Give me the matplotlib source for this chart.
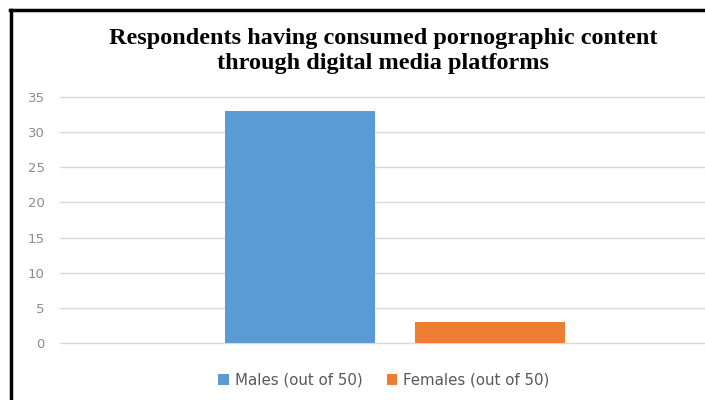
import numpy as np
import matplotlib.pyplot as plt
from matplotlib.lines import Line2D

# data
series = ["Males (out of 50)", "Females (out of 50)"]
values = [33, 3]
colors = ["#5B9BD5", "#ED7D31"]
yticks = [0, 5, 10, 15, 20, 25, 30, 35]

W, H = 705, 400
fig = plt.figure(figsize=(W / 100, H / 100), dpi=100)

# plot area (chart is cropped on the right in the original)
ax = fig.add_axes([60 / W, (H - 343) / H, 670 / W, 246 / H])
pos = [(300 - 60) / 670, (490 - 60) / 670]
bars = ax.bar(pos, values, width=150 / 670, color=colors, label=series, zorder=3)
ax.set_xlim(0, 1)
ax.set_ylim(0, 35)
ax.set_yticks(yticks)
ax.set_xticks([])
ax.grid(axis="y", color="#d9d9d9", linewidth=1, zorder=0)
for gl in ax.get_ygridlines():
    gl.set_clip_on(False)
for s in ax.spines.values():
    s.set_visible(False)
ax.tick_params(axis="y", length=0, pad=11, labelsize=9.5, labelcolor="#8c8c8c")

fig.text(383 / W, 1 - 51 / H,
         "Respondents having consumed pornographic content\nthrough digital media platforms",
         ha="center", va="center", fontsize=17.5, fontweight="bold",
         family="Liberation Serif", linespacing=1.2)

leg = fig.legend(handles=list(bars), labels=series, loc="center",
                 bbox_to_anchor=(384 / W, 1 - 380 / H), ncol=2, frameon=False,
                 fontsize=10.8, handlelength=0.7, handleheight=0.7,
                 columnspacing=1.6, handletextpad=0.4)
for t in leg.get_texts():
    t.set_color("#595959")

# black frame on top and left
fig.add_artist(Line2D([10 / W, 1], [1 - 10 / H, 1 - 10 / H], color="black", lw=2.5))
fig.add_artist(Line2D([11 / W, 11 / W], [0, 1 - 10 / H], color="black", lw=2.5))

fig.savefig("out.png", dpi=100)
